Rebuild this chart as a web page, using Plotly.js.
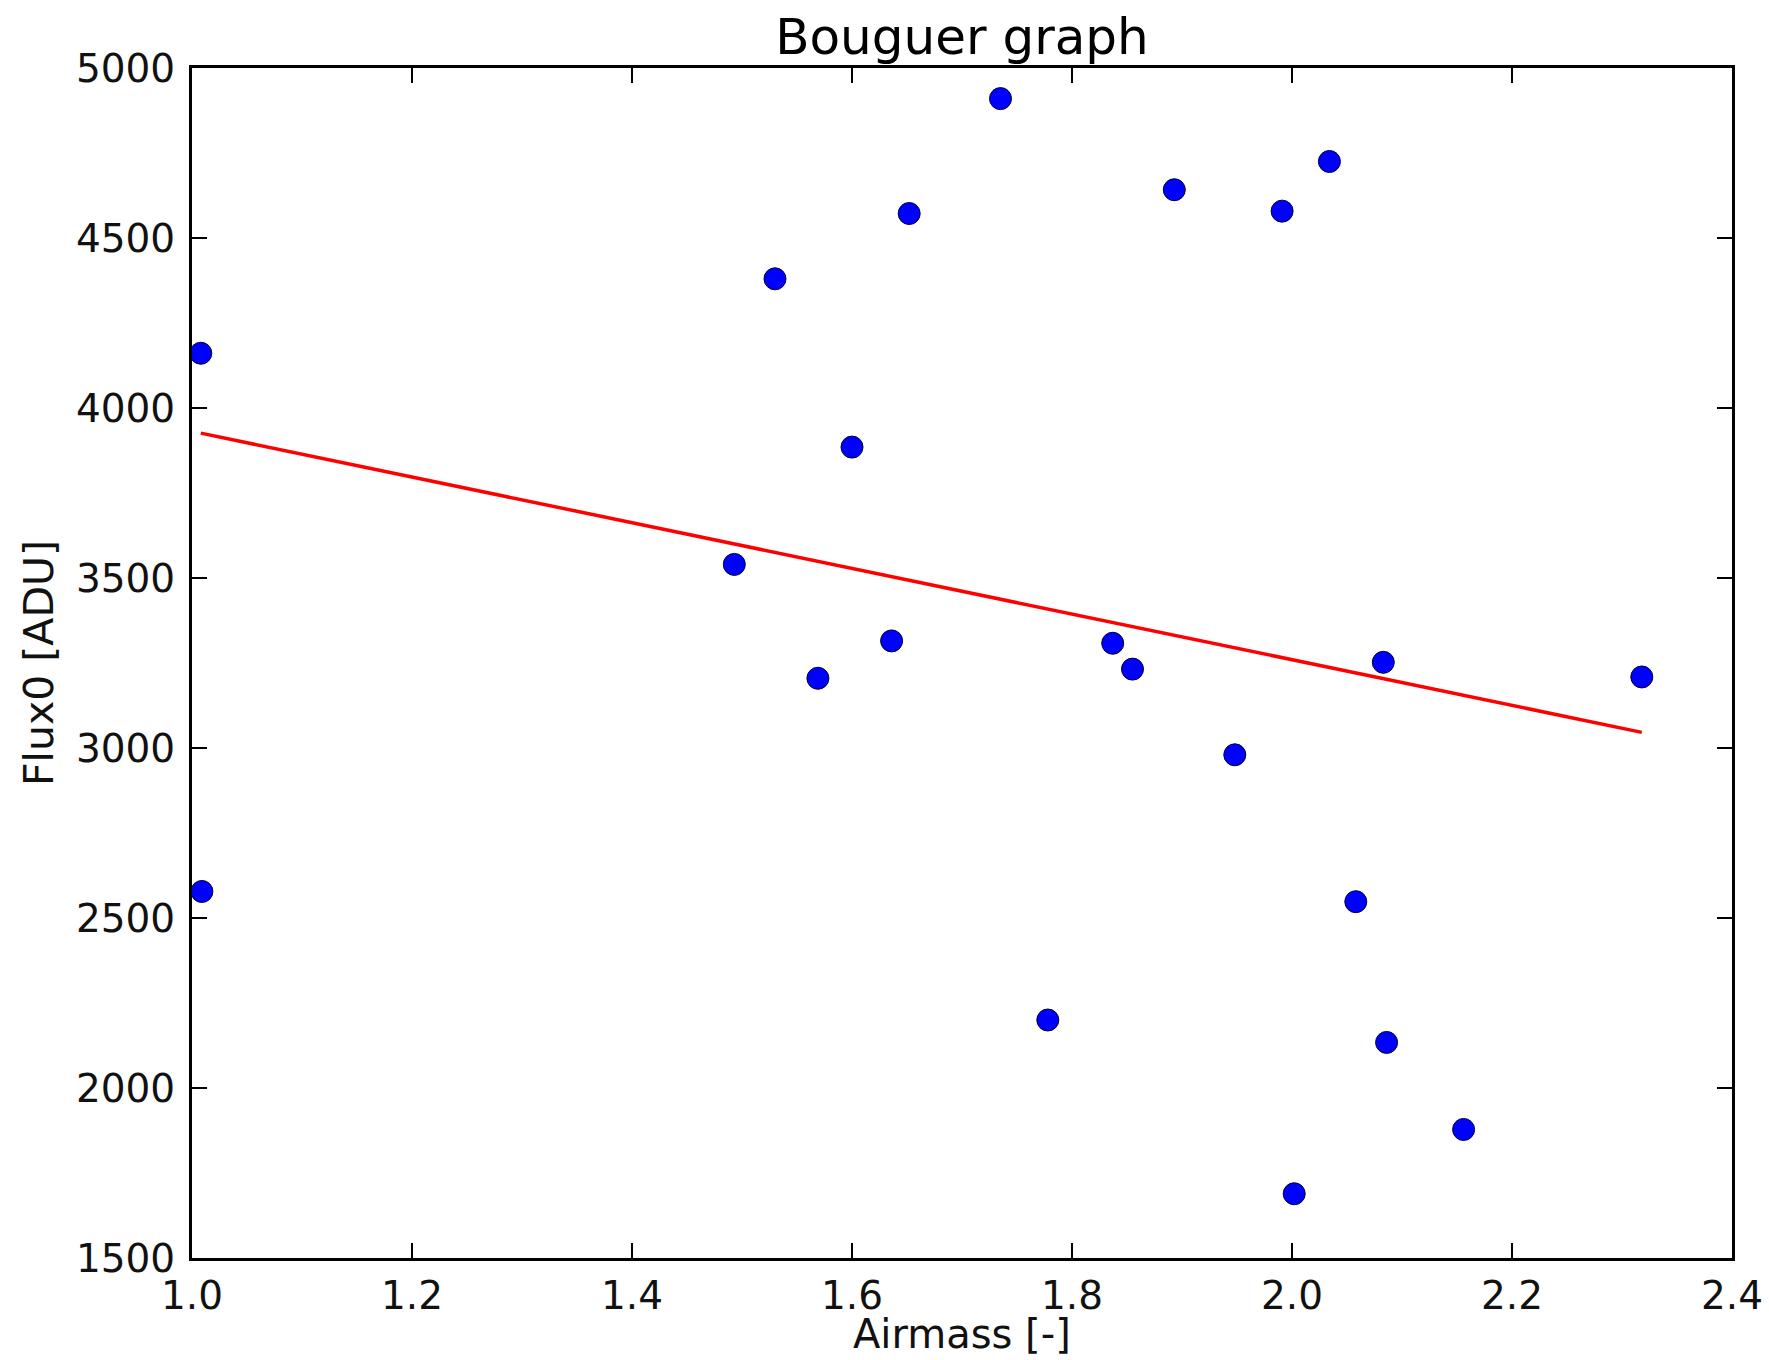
<!DOCTYPE html>
<html>
<head>
<meta charset="utf-8">
<script src="https://cdn.plot.ly/plotly-3.0.1.min.js"></script>
<style>html,body{margin:0;padding:0;background:#fff;}</style>
</head>
<body>
<div id="chart" style="width:1769px;height:1360px;"></div>
<script>
const airmass = [1.008, 1.009, 1.493, 1.530, 1.569, 1.600, 1.636, 1.652, 1.735, 1.778, 1.837, 1.855, 1.893, 1.948, 1.991, 2.002, 2.034, 2.058, 2.083, 2.086, 2.156, 2.318];
const flux0 = [4161, 2578, 3540, 4380, 3205, 3885, 3315, 4572, 4910, 2200, 3308, 3232, 4642, 2980, 4579, 1689, 4725, 2548, 3252, 2134, 1878, 3209];
const fitX = [1.008, 2.318];
const fitY = [3926, 3046];
const xTicks = [1.0, 1.2, 1.4, 1.6, 1.8, 2.0, 2.2, 2.4];
const yTicks = [1500, 2000, 2500, 3000, 3500, 4000, 4500, 5000];

const font = "DejaVu Sans, sans-serif";
const axisCommon = {
  showline: true, linecolor: "#000", linewidth: 3, mirror: "ticks",
  ticks: "inside", ticklen: 15, tickwidth: 1.5, tickcolor: "#000",
  showgrid: false, zeroline: false,
  tickfont: {family: font, size: 39, color: "#111"}
};

const data = [
  {x: airmass, y: flux0, mode: "markers", type: "scatter",
   marker: {color: "#0000ff", size: 22, line: {color: "#000033", width: 1}}},
  {x: fitX, y: fitY, mode: "lines", type: "scatter",
   line: {color: "#ff0000", width: 3.5}}
];

const layout = {
  width: 1769, height: 1360,
  margin: {l: 192, r: 37, t: 68, b: 102},
  showlegend: false,
  paper_bgcolor: "#fff", plot_bgcolor: "#fff",
  title: {text: "Bouguer graph", font: {family: font, size: 50, color: "#000"},
          x: 0.5, xanchor: "center", xref: "paper", y: 1 - 36/1360, yanchor: "middle", yref: "container"},
  xaxis: Object.assign({}, axisCommon, {
    range: [1.0, 2.4], tickvals: xTicks, ticktext: xTicks.map(v => v.toFixed(1)),
    ticklabelstandoff: 1
  }),
  yaxis: Object.assign({}, axisCommon, {
    range: [1500, 5000], tickvals: yTicks, ticktext: yTicks.map(String),
    ticklabelstandoff: 6,
    title: {text: "Flux0 [ADU]", font: {family: font, size: 41, color: "#111"}, standoff: 10}
  }),
  annotations: [
    {text: "Airmass [-]", xref: "paper", yref: "paper", x: 0.5, y: 0,
     xanchor: "center", yanchor: "middle", yshift: -76, showarrow: false, borderpad: 0,
     font: {family: font, size: 40, color: "#111"}}
  ]
};

Plotly.newPlot("chart", data, layout, {staticPlot: true, displayModeBar: false});
</script>
</body>
</html>
